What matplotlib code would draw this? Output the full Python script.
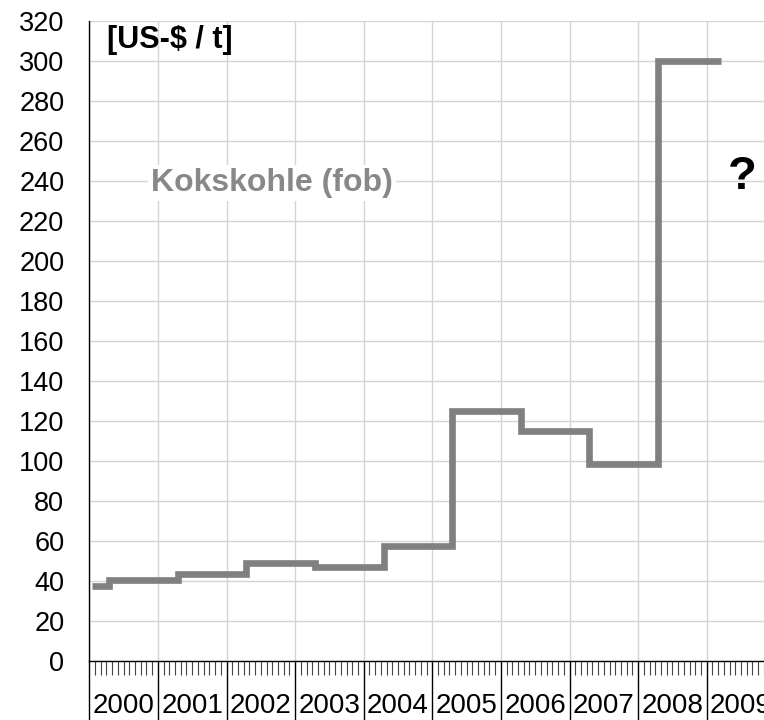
import matplotlib
matplotlib.use("Agg")
import matplotlib.pyplot as plt
from matplotlib.ticker import MultipleLocator
import matplotlib.transforms as mtransforms

plt.rcParams['font.family'] = ['Liberation Sans', 'DejaVu Sans']

# Kokskohle (fob) contract price, US-$ / t, changing with the fiscal year (April)
step_x = [2000.04, 2000.29, 2001.29, 2002.29, 2003.29, 2004.29,
          2005.29, 2006.29, 2007.29, 2008.29, 2009.21]
prices = [37.5, 40.5, 43.5, 49, 47, 57.5, 125, 115, 98.5, 300, 300]
years = list(range(2000, 2010))

fig = plt.figure(figsize=(7.64, 7.2), dpi=100)
ax = fig.add_axes([0.1169, 0.0819, 0.8831, 0.8889])

ax.step(step_x, prices, where='post', color='#808080', linewidth=4.8,
        solid_joinstyle='miter', solid_capstyle='butt', zorder=3)

ax.set_xlim(2000, 2009.835)
ax.set_ylim(0, 320)
ax.yaxis.set_major_locator(MultipleLocator(20))
ax.xaxis.set_major_locator(MultipleLocator(1))
ax.xaxis.set_minor_locator(MultipleLocator(1 / 12))
ax.set_xticklabels([])

ax.grid(True, which='major', color='#d4d4d4', linewidth=1.0, zorder=0)
ax.set_axisbelow(True)

for s in ['top', 'right']:
    ax.spines[s].set_visible(False)
for s in ['left', 'bottom']:
    ax.spines[s].set_color('black')
    ax.spines[s].set_linewidth(1.0)

ax.tick_params(axis='y', length=0, pad=18, labelsize=19.5)
ax.tick_params(axis='x', which='major', length=43, width=1.0, color='black', direction='out')
ax.tick_params(axis='x', which='minor', length=10, width=0.8, color='#444444', direction='out')

# year labels centred between the year ticks
trans = mtransforms.blended_transform_factory(ax.transData, ax.transAxes)
for yr in years:
    ax.text(yr + 0.5, -0.071, str(yr), transform=trans, ha='center', va='center',
            fontsize=20, clip_on=False)

ax.text(2000.26, 310.5, '[US-$ / t]', fontsize=22, fontweight='bold', va='center', ha='left')
ax.text(2000.9, 239, 'Kokskohle (fob)', fontsize=23, fontweight='bold', color='#888888',
        va='center', ha='left',
        bbox=dict(facecolor='white', edgecolor='none', pad=2))
ax.text(2009.515, 242, '?', fontsize=34, fontweight='bold', va='center', ha='center')

fig.savefig('out.png', dpi=100)
